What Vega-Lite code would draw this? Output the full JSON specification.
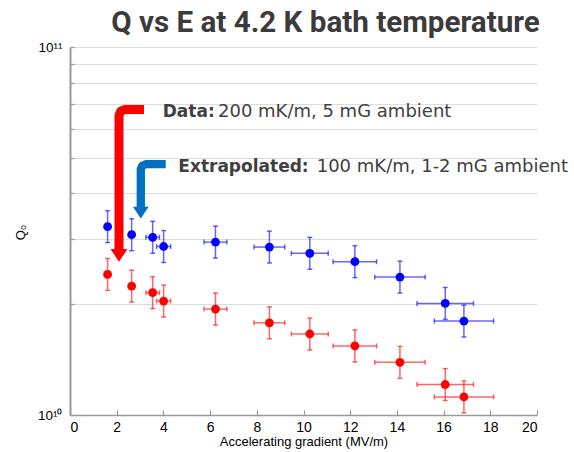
{
  "$schema": "https://vega.github.io/schema/vega-lite/v6.json",
  "width": 467,
  "height": 368,
  "autosize": {"type": "none"},
  "padding": {"left": 70, "top": 47, "right": 37, "bottom": 37},
  "background": "white",
  "title": {
    "text": "Q vs E at 4.2 K bath temperature",
    "anchor": "middle",
    "dx": 22,
    "dy": 30,
    "offset": 8,
    "baseline": "alphabetic",
    "font": "Roboto",
    "fontSize": 29.6,
    "fontWeight": "bold",
    "color": "#3b3b3b"
  },
  "config": {
    "view": {"stroke": null},
    "axis": {
      "labelFont": "Liberation Sans",
      "titleFont": "Liberation Sans",
      "labelColor": "#000000",
      "titleColor": "#000000",
      "domainColor": "#999999",
      "tickColor": "#999999",
      "gridColor": "#dcdcdc",
      "gridWidth": 1
    }
  },
  "datasets": {
    "pts": [
      {"series": "Extrapolated", "E": 1.61, "Elo": 1.53, "Ehi": 1.69, "Q": 32500000000, "Qlo": 29410000000, "Qhi": 35910000000},
      {"series": "Extrapolated", "E": 2.64, "Elo": 2.56, "Ehi": 2.72, "Q": 30900000000, "Qlo": 27960000000, "Qhi": 34140000000},
      {"series": "Extrapolated", "E": 3.54, "Elo": 3.25, "Ehi": 3.83, "Q": 30400000000, "Qlo": 27510000000, "Qhi": 33590000000},
      {"series": "Extrapolated", "E": 4.01, "Elo": 3.71, "Ehi": 4.31, "Q": 28700000000, "Qlo": 25970000000, "Qhi": 31710000000},
      {"series": "Extrapolated", "E": 6.23, "Elo": 5.74, "Ehi": 6.72, "Q": 29500000000, "Qlo": 26700000000, "Qhi": 32600000000},
      {"series": "Extrapolated", "E": 8.54, "Elo": 7.88, "Ehi": 9.2, "Q": 28600000000, "Qlo": 25880000000, "Qhi": 31600000000},
      {"series": "Extrapolated", "E": 10.27, "Elo": 9.48, "Ehi": 11.06, "Q": 27500000000, "Qlo": 24890000000, "Qhi": 30390000000},
      {"series": "Extrapolated", "E": 12.2, "Elo": 11.27, "Ehi": 13.13, "Q": 26100000000, "Qlo": 23620000000, "Qhi": 28840000000},
      {"series": "Extrapolated", "E": 14.13, "Elo": 13.05, "Ehi": 15.21, "Q": 23700000000, "Qlo": 21450000000, "Qhi": 26190000000},
      {"series": "Extrapolated", "E": 16.07, "Elo": 14.86, "Ehi": 17.28, "Q": 20100000000, "Qlo": 18190000000, "Qhi": 22210000000},
      {"series": "Extrapolated", "E": 16.87, "Elo": 15.6, "Ehi": 18.14, "Q": 18000000000, "Qlo": 16290000000, "Qhi": 19890000000},
      {"series": "Data", "E": 1.61, "Elo": 1.53, "Ehi": 1.69, "Q": 24100000000, "Qlo": 21810000000, "Qhi": 26630000000},
      {"series": "Data", "E": 2.64, "Elo": 2.56, "Ehi": 2.72, "Q": 22400000000, "Qlo": 20270000000, "Qhi": 24750000000},
      {"series": "Data", "E": 3.54, "Elo": 3.25, "Ehi": 3.83, "Q": 21500000000, "Qlo": 19460000000, "Qhi": 23760000000},
      {"series": "Data", "E": 4.01, "Elo": 3.71, "Ehi": 4.31, "Q": 20400000000, "Qlo": 18460000000, "Qhi": 22540000000},
      {"series": "Data", "E": 6.23, "Elo": 5.74, "Ehi": 6.72, "Q": 19400000000, "Qlo": 17560000000, "Qhi": 21440000000},
      {"series": "Data", "E": 8.54, "Elo": 7.88, "Ehi": 9.2, "Q": 17800000000, "Qlo": 16110000000, "Qhi": 19670000000},
      {"series": "Data", "E": 10.27, "Elo": 9.48, "Ehi": 11.06, "Q": 16600000000, "Qlo": 15020000000, "Qhi": 18340000000},
      {"series": "Data", "E": 12.2, "Elo": 11.27, "Ehi": 13.13, "Q": 15400000000, "Qlo": 13940000000, "Qhi": 17020000000},
      {"series": "Data", "E": 14.13, "Elo": 13.05, "Ehi": 15.21, "Q": 13900000000, "Qlo": 12580000000, "Qhi": 15360000000},
      {"series": "Data", "E": 16.07, "Elo": 14.86, "Ehi": 17.28, "Q": 12100000000, "Qlo": 10950000000, "Qhi": 13370000000},
      {"series": "Data", "E": 16.87, "Elo": 15.6, "Ehi": 18.14, "Q": 11200000000, "Qlo": 10140000000, "Qhi": 12380000000}
    ],
    "arrows": [
      {"arrow": "data", "i": 0, "x": 3.169, "y": 67650000000},
      {"arrow": "data", "i": 1, "x": 2.355, "y": 67650000000},
      {"arrow": "data", "i": 2, "x": 2.174, "y": 66900000000},
      {"arrow": "data", "i": 3, "x": 2.099, "y": 65150000000},
      {"arrow": "data", "i": 4, "x": 2.099, "y": 27730000000},
      {"arrow": "extra", "i": 0, "x": 4.099, "y": 48030000000},
      {"arrow": "extra", "i": 1, "x": 3.246, "y": 48030000000},
      {"arrow": "extra", "i": 2, "x": 3.096, "y": 47580000000},
      {"arrow": "extra", "i": 3, "x": 3.032, "y": 46550000000},
      {"arrow": "extra", "i": 4, "x": 3.032, "y": 36290000000}
    ],
    "heads": [
      {"arrow": "data", "x": 2.099, "y": 27150000000},
      {"arrow": "extra", "x": 3.032, "y": 35480000000}
    ],
    "notes": [
      {"part": "label", "row": "data", "x": 3.97, "y": 64410000000, "text": "Data:"},
      {"part": "rest", "row": "data", "x": 6.338, "y": 64410000000, "text": "200 mK/m, 5 mG ambient"},
      {"part": "label", "row": "extra", "x": 4.638, "y": 45660000000, "text": "Extrapolated:"},
      {"part": "rest", "row": "extra", "x": 10.566, "y": 45660000000, "text": "100 mK/m, 1-2 mG ambient"}
    ]
  },
  "layer": [
    {
      "data": {"name": "pts"},
      "mark": {"type": "rule", "strokeWidth": 1.5, "opacity": 0.6},
      "encoding": {
        "x": {
          "field": "E", "type": "quantitative",
          "scale": {"domain": [0, 20], "nice": false, "zero": false},
          "axis": {
            "values": [0, 2, 4, 6, 8, 10, 12, 14, 16, 18, 20],
            "title": "Accelerating gradient (MV/m)",
            "titleFontSize": 13,
            "titleFontWeight": "normal",
            "titlePadding": 1,
            "labelFontSize": 14,
            "tickSize": -5,
            "tickWidth": 1.2,
            "labelPadding": 10,
            "domainWidth": 1.6,
            "grid": false
          }
        },
        "y": {
          "field": "Qlo", "type": "quantitative",
          "scale": {"type": "log", "domain": [10000000000, 100000000000], "nice": false},
          "axis": {
            "values": [10000000000, 20000000000, 30000000000, 40000000000, 50000000000, 60000000000, 70000000000, 80000000000, 90000000000, 100000000000],
            "labelExpr": "datum.value == 10000000000 ? '10¹⁰' : (datum.value == 100000000000 ? '10¹¹' : '')",
            "labelFontSize": 13.5,
            "tickSize": -4,
            "tickWidth": 1.2,
            "labelPadding": 12,
            "domainWidth": 2,
            "grid": true,
            "title": "Q₀",
            "titleFontSize": 13,
            "titleFontWeight": "normal",
            "titleAngle": -90,
            "titleX": -46,
            "titleY": 185,
            "titleAlign": "center",
            "titleBaseline": "alphabetic"
          }
        },
        "y2": {"field": "Qhi"},
        "color": {
          "field": "series", "type": "nominal",
          "scale": {"domain": ["Data", "Extrapolated"], "range": ["#ff0000", "#0000ff"]},
          "legend": null
        }
      }
    },
    {
      "data": {"name": "pts"},
      "mark": {"type": "rule", "strokeWidth": 1.5, "opacity": 0.6},
      "encoding": {
        "x": {"field": "Elo", "type": "quantitative"},
        "x2": {"field": "Ehi"},
        "y": {"field": "Q", "type": "quantitative"},
        "color": {"field": "series", "type": "nominal", "legend": null}
      }
    },
    {
      "data": {"name": "pts"},
      "mark": {"type": "tick", "orient": "horizontal", "size": 5, "thickness": 1.5, "opacity": 0.6},
      "encoding": {
        "x": {"field": "E", "type": "quantitative"},
        "y": {"field": "Qlo", "type": "quantitative"},
        "color": {"field": "series", "type": "nominal", "legend": null}
      }
    },
    {
      "data": {"name": "pts"},
      "mark": {"type": "tick", "orient": "horizontal", "size": 5, "thickness": 1.5, "opacity": 0.6},
      "encoding": {
        "x": {"field": "E", "type": "quantitative"},
        "y": {"field": "Qhi", "type": "quantitative"},
        "color": {"field": "series", "type": "nominal", "legend": null}
      }
    },
    {
      "data": {"name": "pts"},
      "mark": {"type": "tick", "orient": "vertical", "size": 5, "thickness": 1.5, "opacity": 0.6},
      "encoding": {
        "x": {"field": "Elo", "type": "quantitative"},
        "y": {"field": "Q", "type": "quantitative"},
        "color": {"field": "series", "type": "nominal", "legend": null}
      }
    },
    {
      "data": {"name": "pts"},
      "mark": {"type": "tick", "orient": "vertical", "size": 5, "thickness": 1.5, "opacity": 0.6},
      "encoding": {
        "x": {"field": "Ehi", "type": "quantitative"},
        "y": {"field": "Q", "type": "quantitative"},
        "color": {"field": "series", "type": "nominal", "legend": null}
      }
    },
    {
      "data": {"name": "pts"},
      "mark": {"type": "circle", "size": 78, "opacity": 1},
      "encoding": {
        "x": {"field": "E", "type": "quantitative"},
        "y": {"field": "Q", "type": "quantitative"},
        "color": {"field": "series", "type": "nominal", "legend": null}
      }
    },
    {
      "data": {"name": "arrows"},
      "transform": [{"filter": "datum.arrow == 'data'"}],
      "mark": {"type": "line", "color": "#ff0000", "strokeWidth": 9, "strokeJoin": "round", "strokeCap": "butt"},
      "encoding": {
        "x": {"field": "x", "type": "quantitative"},
        "y": {"field": "y", "type": "quantitative"},
        "order": {"field": "i", "type": "quantitative"}
      }
    },
    {
      "data": {"name": "arrows"},
      "transform": [{"filter": "datum.arrow == 'extra'"}],
      "mark": {"type": "line", "color": "#0070c0", "strokeWidth": 8.3, "strokeJoin": "round", "strokeCap": "butt"},
      "encoding": {
        "x": {"field": "x", "type": "quantitative"},
        "y": {"field": "y", "type": "quantitative"},
        "order": {"field": "i", "type": "quantitative"}
      }
    },
    {
      "data": {"name": "heads"},
      "transform": [{"filter": "datum.arrow == 'data'"}],
      "mark": {"type": "point", "shape": "M-1,-0.75L1,-0.75L0,0.75Z", "filled": true, "opacity": 1, "color": "#ff0000", "size": 289},
      "encoding": {
        "x": {"field": "x", "type": "quantitative"},
        "y": {"field": "y", "type": "quantitative"}
      }
    },
    {
      "data": {"name": "heads"},
      "transform": [{"filter": "datum.arrow == 'extra'"}],
      "mark": {"type": "point", "shape": "M-1,-0.75L1,-0.75L0,0.75Z", "filled": true, "opacity": 1, "color": "#0070c0", "size": 246},
      "encoding": {
        "x": {"field": "x", "type": "quantitative"},
        "y": {"field": "y", "type": "quantitative"}
      }
    },
    {
      "data": {"name": "notes"},
      "transform": [{"filter": "datum.part == 'label'"}],
      "mark": {"type": "text", "align": "left", "baseline": "alphabetic", "font": "DejaVu Sans", "fontSize": 17, "fontWeight": "bold", "color": "#404040"},
      "encoding": {
        "x": {"field": "x", "type": "quantitative"},
        "y": {"field": "y", "type": "quantitative"},
        "text": {"field": "text"}
      }
    },
    {
      "data": {"name": "notes"},
      "transform": [{"filter": "datum.part == 'rest'"}],
      "mark": {"type": "text", "align": "left", "baseline": "alphabetic", "font": "DejaVu Sans", "fontSize": 18, "fontWeight": "normal", "color": "#404040"},
      "encoding": {
        "x": {"field": "x", "type": "quantitative"},
        "y": {"field": "y", "type": "quantitative"},
        "text": {"field": "text"}
      }
    }
  ]
}
